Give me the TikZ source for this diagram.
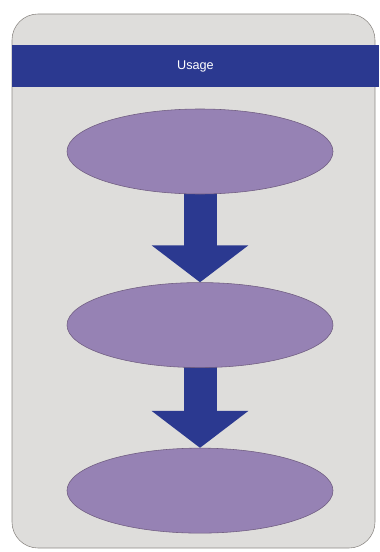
\documentclass[tikz,border=0pt]{standalone}
\usepackage{fontspec}
\setsansfont{Liberation Sans}
\usepackage{tikz}
\usetikzlibrary{positioning,shapes.geometric,arrows.meta,backgrounds}

\definecolor{cardgray}{HTML}{DEDDDB}
\definecolor{cardline}{HTML}{8E8A86}
\definecolor{bandblue}{HTML}{2B3990}
\definecolor{stagefill}{HTML}{9682B4}
\definecolor{stageline}{HTML}{6F5C80}

\begin{document}
\begin{tikzpicture}[
x=0.5mm, y=-0.5mm,
font=\sffamily,
stage/.style={ellipse, draw=stageline, thick, fill=stagefill, minimum width=133mm, minimum height=42.5mm, inner sep=0pt},
flow/.style={draw=bandblue, line width=16.5mm, -{Triangle[length=18.5mm, width=47.5mm]}}
]
\useasboundingbox (0,0) rectangle (379,552);

% --- STAGES ---
\node[stage] (first) at (200,151.5) {};
\node[stage, below=44mm of first] (second) {};
\node[stage, below=40mm of second] (third) {};

% --- HEADER ---
\node[fill=bandblue, text=white, minimum width=183.5mm, minimum height=21mm, inner sep=0pt,
font=\sffamily\fontsize{18}{20}\selectfont] (title) at (195.5,66) {Usage};

\begin{scope}[on background layer]
\draw[cardline, thick, fill=cardgray, rounded corners=13mm] (12,14) rectangle (375,548);
% --- FLOWS ---
\draw[flow] (first.center) -- (second.north);
\draw[flow] (second.center) -- (third.north);
\end{scope}

\end{tikzpicture}
\end{document}
